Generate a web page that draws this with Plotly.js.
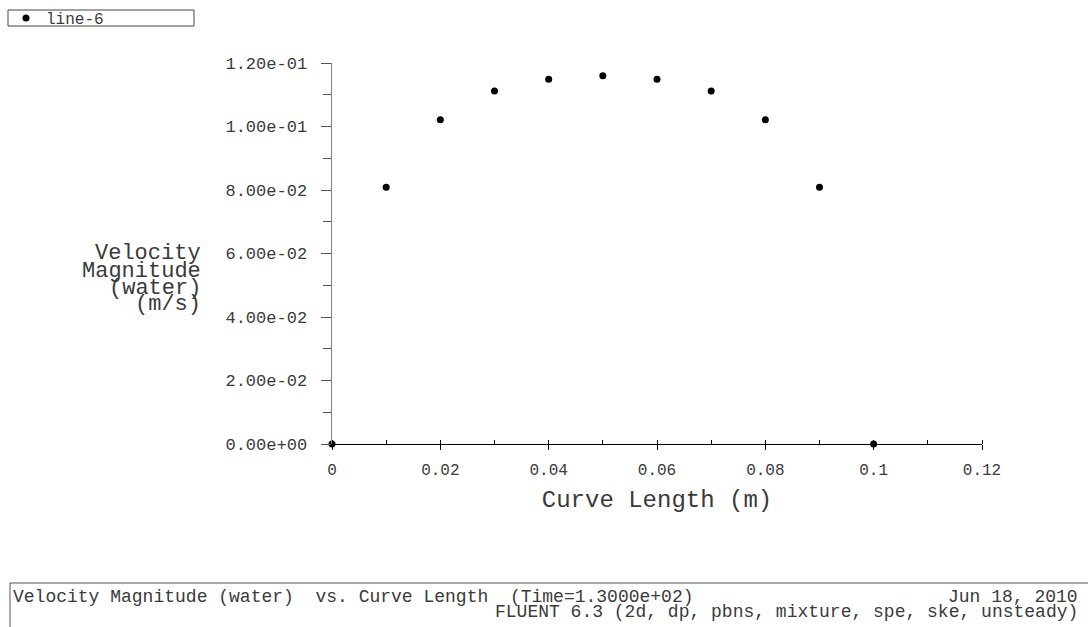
<!DOCTYPE html>
<html>
<head>
<meta charset="utf-8">
<script src="https://cdn.plot.ly/plotly-3.0.1.min.js"></script>
<style>
html,body{margin:0;padding:0;background:#fff;}
#chart{width:1088px;height:627px;}
</style>
</head>
<body>
<div id="chart"></div>
<script>
// ---- data ----
var curveLength = [0, 0.01, 0.02, 0.03, 0.04, 0.05, 0.06, 0.07, 0.08, 0.09, 0.1];
var velocityMag = [0, 0.0809, 0.1021, 0.1112, 0.1149, 0.1160, 0.1149, 0.1112, 0.1021, 0.0809, 0];
var seriesName = 'line-6';
var yTickValues = [0, 0.02, 0.04, 0.06, 0.08, 0.10, 0.12];
var yTickLabels = ['0.00e+00', '2.00e-02', '4.00e-02', '6.00e-02', '8.00e-02', '1.00e-01', '1.20e-01'];
var yTitleLines = ['Velocity', 'Magnitude', '(water)', '(m/s)'];
var xTitle = 'Curve Length (m)';
var footerLeft = 'Velocity Magnitude (water)  vs. Curve Length  (Time=1.3000e+02)';
var footerDate = 'Jun 18, 2010';
var footerSolver = 'FLUENT 6.3 (2d, dp, pbns, mixture, spe, ske, unsteady)';

// ---- layout geometry (pixels) ----
var W = 1088, H = 627;
var L = 332, R = 982, T = 63, B = 444;
function px(x) { return (x - L) / (R - L); }
function py(y) { return (B - y) / (B - T); }

var FONT = 'Liberation Mono, DejaVu Sans Mono, monospace';
var TXT = '#3a3a3a';

var trace = {
  x: curveLength,
  y: velocityMag,
  type: 'scatter',
  mode: 'markers',
  name: seriesName,
  marker: {color: '#000', size: 7},
  cliponaxis: false,
  showlegend: true
};

var yTitleY = [254, 271, 288, 304];
var annotations = yTitleLines.map(function (t, i) {
  return {text: t, xref: 'paper', yref: 'paper', x: px(203), y: py(yTitleY[i]),
    xanchor: 'right', yanchor: 'middle', showarrow: false,
    font: {family: FONT, size: 22, color: TXT}};
});
annotations.push({text: footerLeft, xref: 'paper', yref: 'paper', x: px(11), y: py(597),
  xanchor: 'left', yanchor: 'middle', showarrow: false, font: {family: FONT, size: 18, color: TXT}});
annotations.push({text: footerDate, xref: 'paper', yref: 'paper', x: px(1080), y: py(597),
  xanchor: 'right', yanchor: 'middle', showarrow: false, font: {family: FONT, size: 18, color: TXT}});
annotations.push({text: footerSolver, xref: 'paper', yref: 'paper', x: px(1080), y: py(612),
  xanchor: 'right', yanchor: 'middle', showarrow: false, font: {family: FONT, size: 18, color: TXT}});

var layout = {
  width: W, height: H,
  margin: {l: L, r: W - R, t: T, b: H - B, pad: 0, autoexpand: false},
  paper_bgcolor: '#fff', plot_bgcolor: '#fff',
  showlegend: true,
  legend: {
    x: px(6), y: py(1), xanchor: 'left', yanchor: 'top',
    orientation: 'h',
    borderwidth: 0, bgcolor: 'rgba(0,0,0,0)',
    font: {family: FONT, size: 16, color: TXT}
  },
  xaxis: {
    range: [0, 0.12], dtick: 0.02, tick0: 0,
    showgrid: false, zeroline: false,
    showline: true, linecolor: '#000', linewidth: 1,
    ticks: 'outside', ticklen: 5, tickcolor: '#000', tickwidth: 1,
    minor: {dtick: 0.01, ticks: 'inside', ticklen: 4, tickcolor: '#000', showgrid: false},
    tickfont: {family: FONT, size: 16, color: TXT},
    ticklabelstandoff: 6,
    title: {text: xTitle, font: {family: FONT, size: 24, color: TXT}, standoff: 10}
  },
  yaxis: {
    range: [0, 0.12],
    tickvals: yTickValues, ticktext: yTickLabels,
    showgrid: false, zeroline: false,
    showline: true, linecolor: '#808080', linewidth: 1.5,
    ticks: 'outside', ticklen: 10, tickcolor: '#555', tickwidth: 1,
    minor: {dtick: 0.01, ticks: 'outside', ticklen: 8, tickcolor: '#555', showgrid: false},
    tickfont: {family: FONT, size: 17, color: TXT},
    ticklabelstandoff: 10
  },
  shapes: [
    {type: 'rect', xref: 'paper', yref: 'paper',
     x0: px(10), x1: px(1100), y0: py(583), y1: py(640),
     line: {color: '#555', width: 1}, fillcolor: 'rgba(0,0,0,0)'},
    {type: 'rect', xref: 'paper', yref: 'paper',
     x0: px(8), x1: px(194), y0: py(10), y1: py(26),
     line: {color: '#444', width: 1}, fillcolor: 'rgba(0,0,0,0)'}
  ],
  annotations: annotations
};

Plotly.newPlot('chart', [trace], layout, {displayModeBar: false, staticPlot: true});
</script>
</body>
</html>
